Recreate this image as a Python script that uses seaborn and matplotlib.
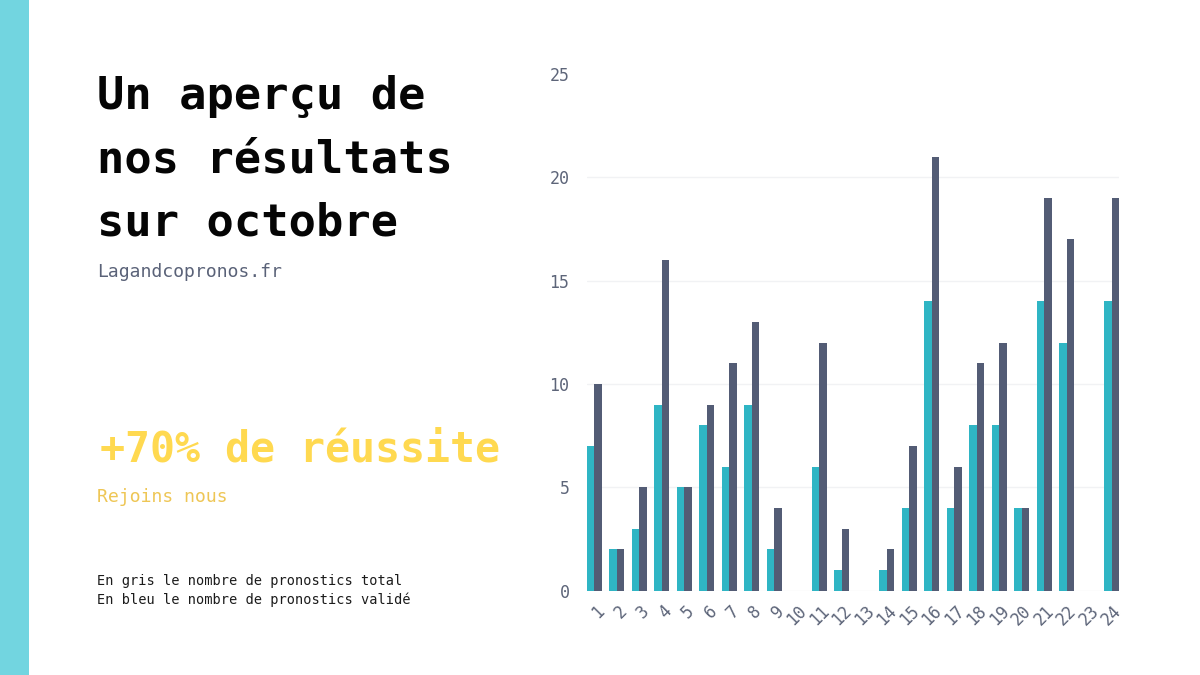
import matplotlib
matplotlib.use("Agg")
import matplotlib.pyplot as plt
from matplotlib.patches import Rectangle
from matplotlib.transforms import ScaledTranslation
import pandas as pd
import seaborn as sns

days = [str(i) for i in range(1, 25)]
valides = [7, 2, 3, 9, 5, 8, 6, 9, 2, 0, 6, 1, 0, 1, 4, 14, 4, 8, 8, 4, 14, 12, 0, 14]
totaux = [10, 2, 5, 16, 5, 9, 11, 13, 4, 0, 12, 3, 0, 2, 7, 21, 6, 11, 12, 4, 19, 17, 0, 19]
y_ticks = [0, 5, 10, 15, 20, 25]
title_lines = ["Un aperçu de", "nos résultats", "sur octobre"]

W, H = 1200, 675
MONO = "DejaVu Sans Mono"
TEAL, SLATE = "#2fb5c4", "#535c75"

sns.set_theme(style="white")
plt.rcParams["font.family"] = [MONO]

df = pd.DataFrame({
    "jour": days * 2,
    "valeur": valides + totaux,
    "serie": ["valide"] * 24 + ["total"] * 24,
})

fig = plt.figure(figsize=(12, 6.75), dpi=100, facecolor="white")
L, R, T, B = 587, 1119, 74, 590.5
ax = fig.add_axes([L / W, 1 - B / H, (R - L) / W, (B - T) / H])
sns.barplot(data=df, x="jour", y="valeur", hue="serie", order=days,
            hue_order=["valide", "total"], palette=[TEAL, SLATE],
            width=0.667, gap=0, dodge=True, saturation=1, legend=False,
            linewidth=0, ax=ax)
ax.set_xlim(-0.3335, 23.3335)
ax.set_ylim(0, 25)
ax.set_xlabel("")
ax.set_ylabel("")
ax.set_yticks(y_ticks)
ax.set_axisbelow(True)
ax.grid(axis="y", color="#f1f2f4", lw=1)
ax.grid(axis="x", visible=False)
ax.get_ygridlines()[-1].set_visible(False)
sns.despine(ax=ax, left=True, bottom=True, top=True, right=True)
ax.tick_params(axis="y", length=0, pad=17, labelsize=12, labelcolor="#5d6579")
ax.tick_params(axis="x", length=0, pad=8, labelsize=12, labelcolor="#5d6579")
for lab in ax.get_xticklabels():
    lab.set_rotation(45)
    lab.set_ha("center")
    lab.set_va("top")
    dx = 3.5 if len(lab.get_text()) == 1 else 0
    lab.set_transform(lab.get_transform() + ScaledTranslation(dx / 100, 0, fig.dpi_scale_trans))
for lab in ax.get_yticklabels():
    lab.set_transform(lab.get_transform() + ScaledTranslation(6 / 100, 0, fig.dpi_scale_trans))

fig.add_artist(Rectangle((0, 0), 29 / W, 1, transform=fig.transFigure,
                         facecolor="#72d5e0", edgecolor="none"))

def put(x, y, s, size, color, weight="normal"):
    fig.text(x / W, 1 - y / H, s, fontsize=size, color=color, weight=weight,
             family=MONO, ha="left", va="center")

for yy, line in zip([97, 160, 223], title_lines):
    put(97, yy, line, 32.7, "#050505", "bold")
put(97, 272, "Lagandcopronos.fr", 13.1, "#5a6278")
put(100, 450, "+70% de réussite", 30, "#ffd950", "bold")
put(97, 497, "Rejoins nous", 13.1, "#eec655")
put(97, 581, "En gris le nombre de pronostics total", 9.85, "#1c1c1c")
put(97, 600, "En bleu le nombre de pronostics validé", 9.85, "#1c1c1c")

fig.savefig("out.png", dpi=100)
